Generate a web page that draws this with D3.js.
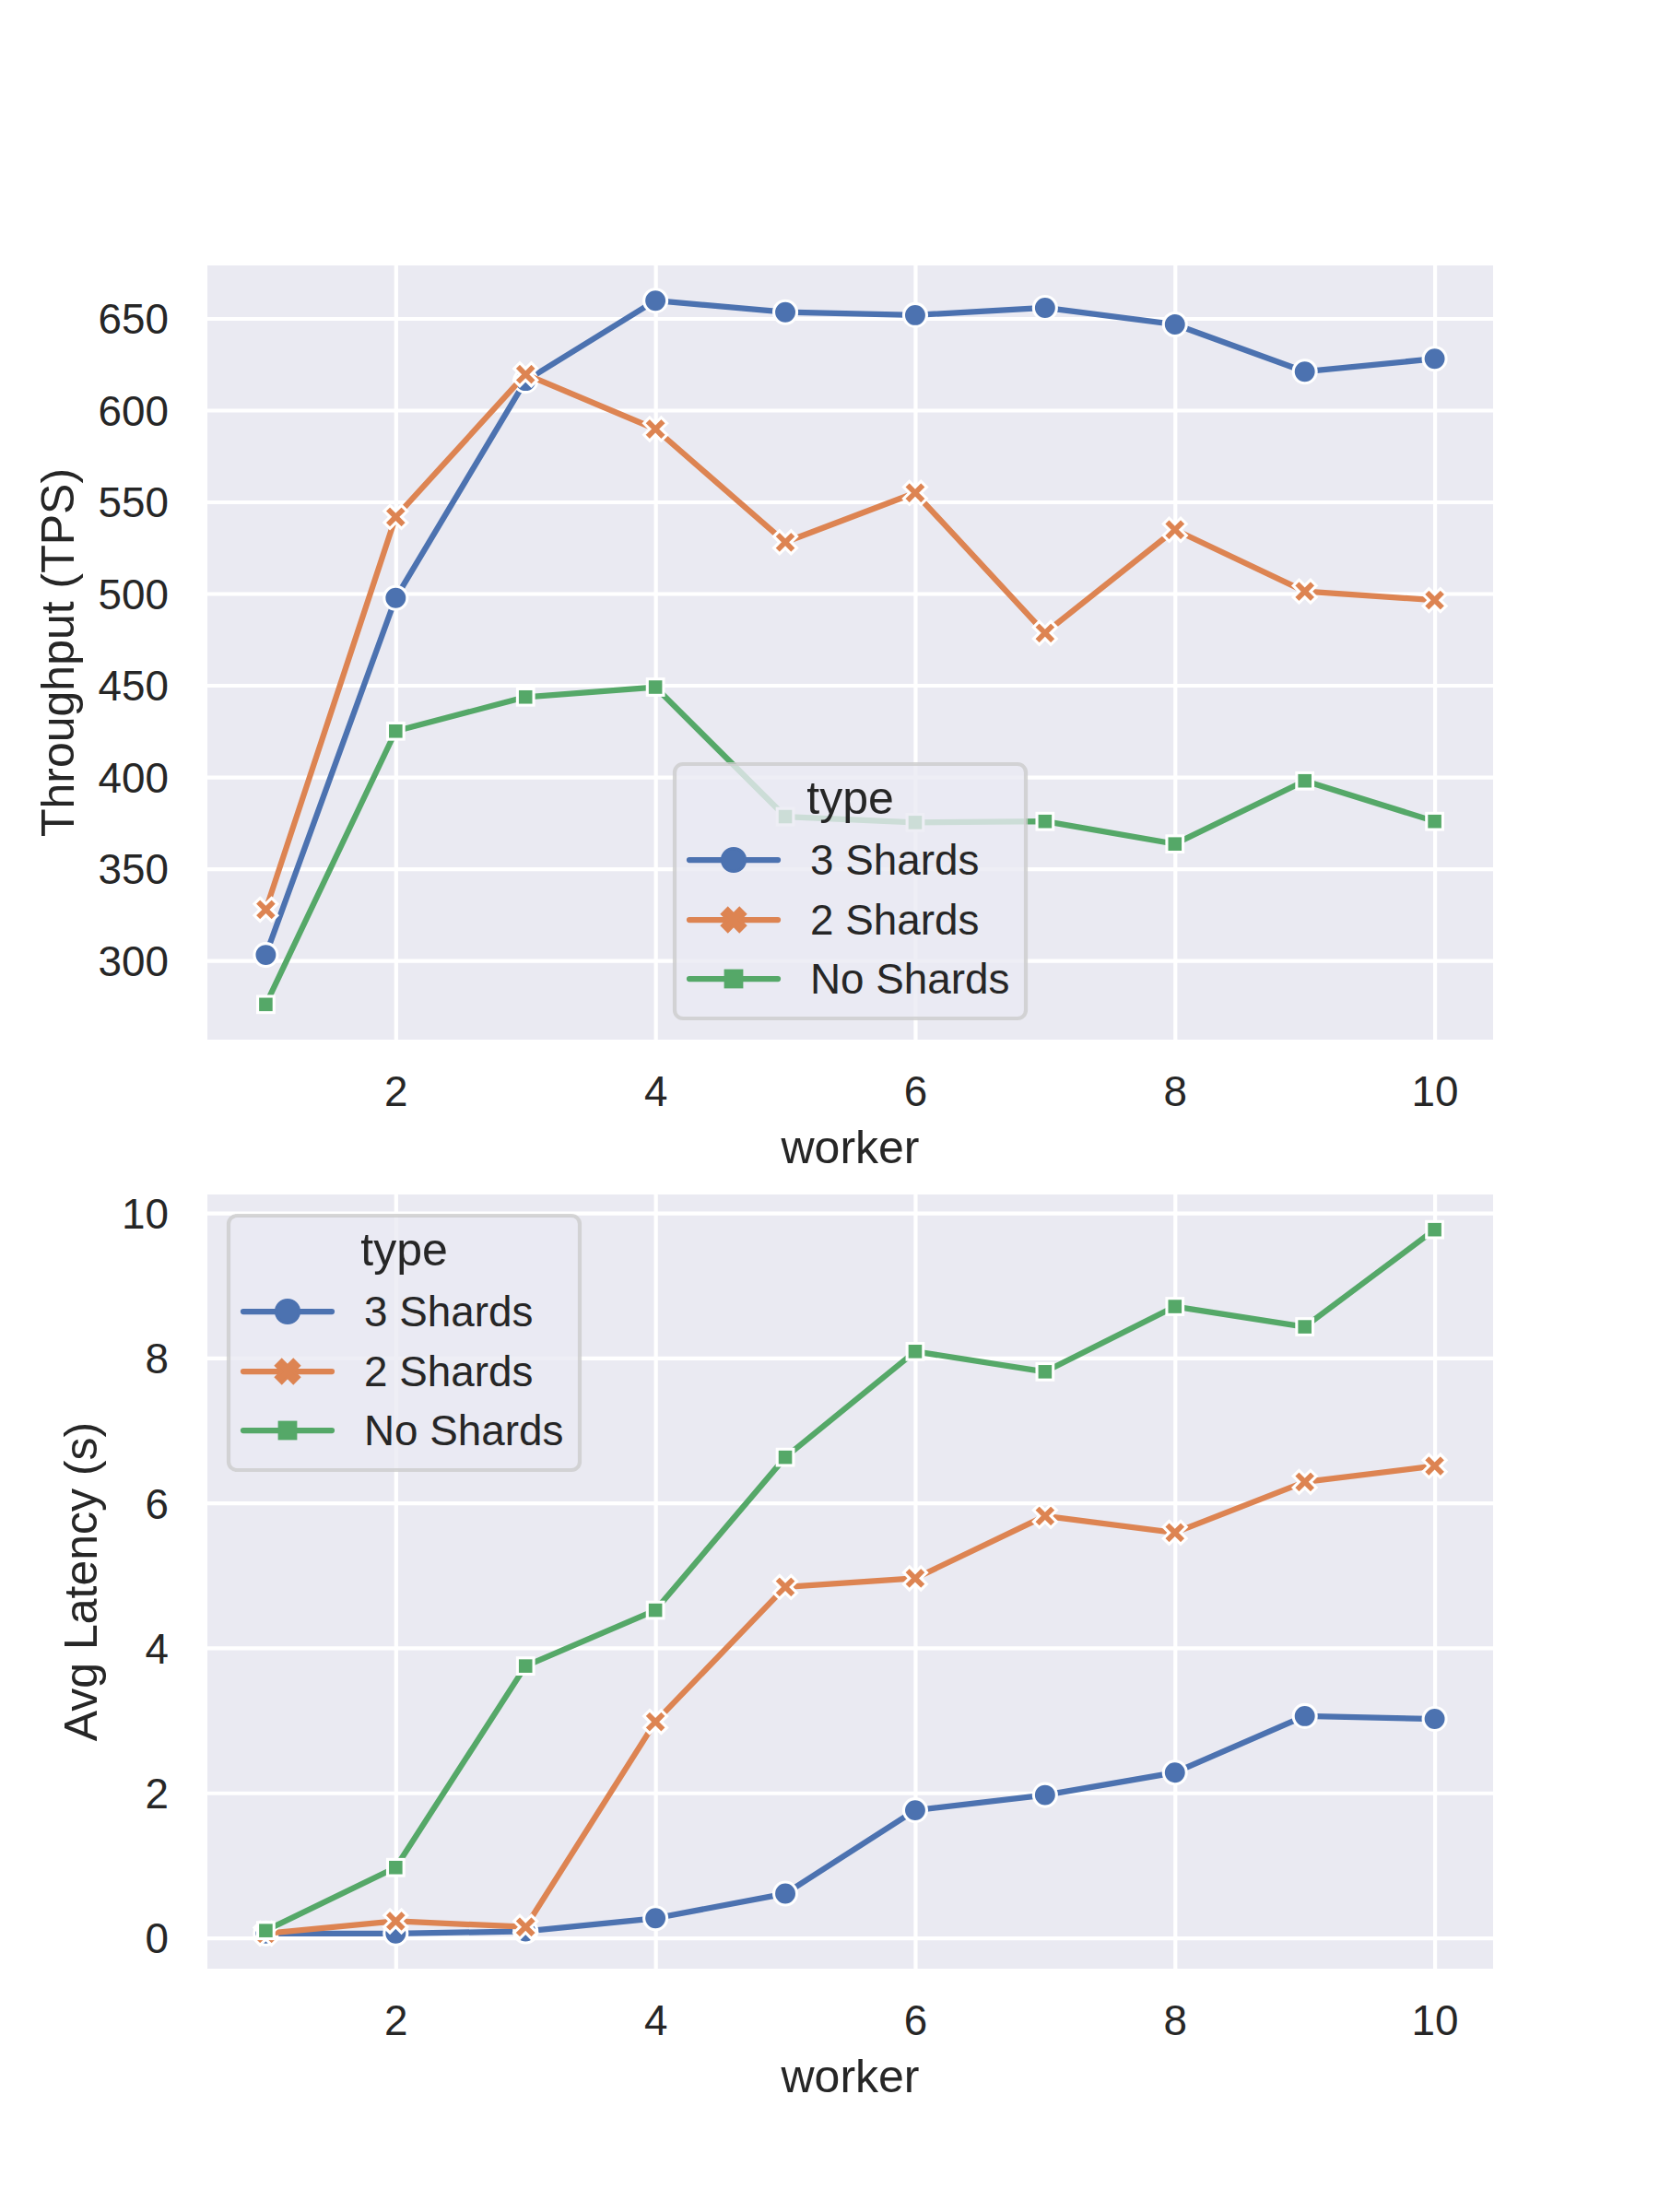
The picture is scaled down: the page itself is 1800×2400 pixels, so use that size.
<!DOCTYPE html>
<html><head><meta charset="utf-8">
<script src="https://cdn.jsdelivr.net/npm/d3@7"></script>
<style>
body{margin:0;background:#fff}
text{font-family:"Liberation Sans",Arial,Helvetica,sans-serif;fill:#262626}
</style>
</head><body>
<svg id="chart" width="1800" height="2400"></svg>
<script>
// ---- data ----
const workers = [1,2,3,4,5,6,7,8,9,10];
const seriesNames = ["3 Shards","2 Shards","No Shards"];
const throughput3 = [303,497.6,616,659.7,653.4,651.8,655.8,646.7,621,628];
const throughput2 = [327.7,541.8,619.5,589.7,528,554.9,478.5,534.8,501.2,496.4];
const throughputNo = [276,425,443.6,449,378.4,375.2,375.8,363.5,397.9,375.8];
const latency3 = [0.06,0.06,0.09,0.27,0.61,1.76,1.97,2.28,3.06,3.02];
const latency2 = [0.06,0.23,0.15,2.98,4.84,4.96,5.82,5.59,6.29,6.51];
const latencyNo = [0.10,0.97,3.75,4.52,6.63,8.09,7.81,8.71,8.43,9.77];
const xTicks = [2,4,6,8,10];
const throughputTicks = [300,350,400,450,500,550,600,650];
const latencyTicks = [0,2,4,6,8,10];
const colors = ["#4C72B0","#DD8452","#55A868"];
const markerTypes = ["circle","x","square"];

const svg = d3.select("#chart");
const W = 1800;
const axL = 225, axR = 1620, axH = 840;

function pad(ext){ const r = ext[1]-ext[0]; return [ext[0]-0.05*r, ext[1]+0.05*r]; }

const xPath = (() => {
  const v = [[-1,-2],[0,-1],[1,-2],[2,-1],[1,0],[2,1],[1,2],[0,1],[-1,2],[-2,1],[-1,0],[-2,-1]];
  const s = 25/4;
  return "M" + v.map(p => (p[0]*s)+","+(p[1]*s)).join("L") + "Z";
})();

function drawMarker(g, type, cx, cy, fill, stroke, sw){
  let m;
  if (type === "circle") {
    m = g.append("circle").attr("cx",cx).attr("cy",cy).attr("r",12.5);
  } else if (type === "x") {
    m = g.append("path").attr("d", xPath).attr("transform", `translate(${cx},${cy})`);
  } else {
    const h = 12.5/Math.SQRT2;
    m = g.append("rect").attr("x",cx-h).attr("y",cy-h).attr("width",2*h).attr("height",2*h);
  }
  m.attr("fill",fill).attr("stroke",stroke).attr("stroke-width",sw).attr("stroke-linejoin","miter");
}

function panel(top, series, yTicks, ylabel, legendXY){
  const bottom = top + axH;
  const g = svg.append("g");
  const x = d3.scaleLinear().domain(pad(d3.extent(workers))).range([axL, axR]);
  const allVals = series.flat();
  const y = d3.scaleLinear().domain(pad(d3.extent(allVals))).range([bottom, top]);

  g.append("rect").attr("x",axL).attr("y",top).attr("width",axR-axL).attr("height",axH).attr("fill","#EAEAF2");

  // grid via axes
  const gx = g.append("g").attr("transform",`translate(0,${bottom})`)
    .call(d3.axisBottom(x).tickValues(xTicks).tickSize(-axH).tickPadding(0).tickFormat(d3.format("d")));
  gx.select(".domain").remove();
  gx.selectAll("line").attr("stroke","#fff").attr("stroke-width",4.2);
  gx.selectAll("text").attr("y",72).attr("dy",null).attr("font-size",45.8).attr("fill","#262626");

  const gy = g.append("g").attr("transform",`translate(${axL},0)`)
    .call(d3.axisLeft(y).tickValues(yTicks).tickSize(-(axR-axL)).tickPadding(0).tickFormat(d3.format("d")));
  gy.select(".domain").remove();
  gy.selectAll("line").attr("stroke","#fff").attr("stroke-width",4.2);
  gy.selectAll("text").attr("x",-42).attr("dy",null).attr("y",16.4).attr("text-anchor","end")
    .attr("font-size",45.8).attr("fill","#262626");
  gy.attr("font-family",null); gx.attr("font-family",null);

  let maxW = 0;
  gy.selectAll("text").each(function(){ maxW = Math.max(maxW, this.getComputedTextLength()); });

  // axis labels
  g.append("text").attr("x",(axL+axR)/2).attr("y",bottom+134).attr("text-anchor","middle")
    .attr("font-size",50).text("worker");
  const lx = axL - 42 - maxW - 27;
  g.append("text").attr("transform",`translate(${lx},${(top+bottom)/2}) rotate(-90)`)
    .attr("text-anchor","middle").attr("font-size",50).text(ylabel);

  // lines + markers
  const line = d3.line().x((d,i)=>x(workers[i])).y(d=>y(d));
  series.forEach((vals, si) => {
    const sg = g.append("g");
    sg.append("path").attr("d", line(vals)).attr("fill","none").attr("stroke",colors[si])
      .attr("stroke-width",6.25).attr("stroke-linejoin","round").attr("stroke-linecap","square");
    vals.forEach((v,i) => drawMarker(sg, markerTypes[si], x(workers[i]), y(v), colors[si], "#fff", 3.1));
  });

  // legend
  const [lgX, lgY] = legendXY;
  const lg = g.append("g").attr("transform",`translate(${lgX},${lgY})`);
  lg.append("rect").attr("x",0).attr("y",0).attr("width",381).attr("height",276).attr("rx",9).attr("ry",9)
    .attr("fill","#EAEAF2").attr("fill-opacity",0.8).attr("stroke","#cccccc").attr("stroke-opacity",0.8).attr("stroke-width",4.2);
  lg.append("text").attr("x",190.5).attr("y",54).attr("text-anchor","middle").attr("font-size",50).text("type");
  const rows = [104,169,233];
  seriesNames.forEach((name, si) => {
    const ry = rows[si];
    lg.append("line").attr("x1",16).attr("x2",112).attr("y1",ry).attr("y2",ry)
      .attr("stroke",colors[si]).attr("stroke-width",6.25).attr("stroke-linecap","round");
    drawMarker(lg, markerTypes[si], 64, ry, colors[si], colors[si], 3.1);
    lg.append("text").attr("x",147).attr("y",ry+16).attr("font-size",45.8).text(name);
  });
}

panel(288, [throughput3, throughput2, throughputNo], throughputTicks, "Throughput (TPS)", [(axL+axR)/2-190.5, 288+axH-23-276]);
panel(1296, [latency3, latency2, latencyNo], latencyTicks, "Avg Latency (s)", [axL+23, 1296+23]);
</script>
</body></html>
